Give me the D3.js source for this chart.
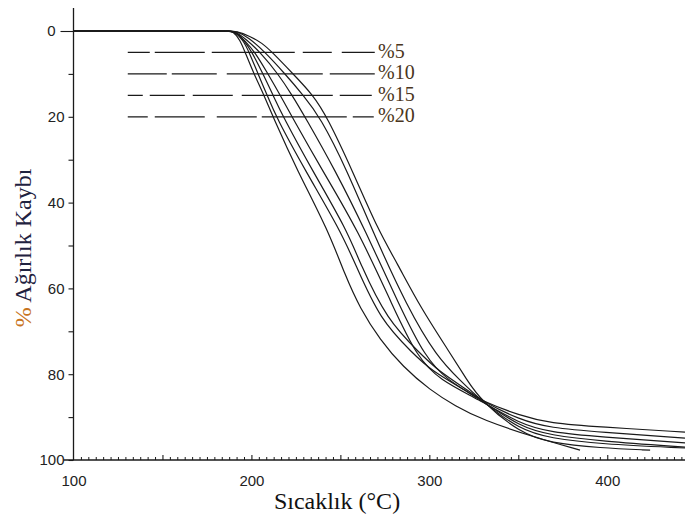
<!DOCTYPE html>
<html><head><meta charset="utf-8">
<script src="https://cdn.jsdelivr.net/npm/d3@7"></script>
<style>body{margin:0;background:#fff} svg{display:block}</style>
</head><body>
<svg id="c" width="685" height="520"></svg>
<script>
// ---- data: [temperature °C, weight loss %]
const seriesA = [[100,0],[186,0],[189.7,0],[193.6,2.1],[196.4,4.9],[201.4,10],[207,14.9],[212.1,20],[225.6,32.4],[243.1,46.4],[252.6,56.9],[261,64.6],[272.3,72],[285.2,78.3],[300.4,83.7],[314.5,87.4],[330.2,90.7],[358.3,94.6],[384.7,97.7]];
const seriesB = [[100,0],[186.5,0],[190.2,0],[195.3,2.1],[198.7,4.9],[203.7,10],[208.8,14.9],[213.8,20],[230.1,32.4],[249.8,46.4],[258.2,54.1],[272.3,67.4],[290.8,75.1],[300.4,79],[322.9,84.4],[328.5,86],[351,89.7],[367.9,91.4],[396,92.3],[443.7,93.5]];
const seriesC = [[100,0],[187,0],[190.8,0],[195.8,2.1],[200.3,4.9],[206.5,10],[212.1,14.9],[217.8,20],[234.1,32.4],[253.7,46.4],[261,54.1],[276.2,67.4],[294.8,75.1],[304.3,79],[324,84.4],[329.6,86.2],[351,90.7],[367.9,92.5],[396,93.5],[443.7,94.9]];
const seriesD = [[100,0],[187,0],[190.8,0],[196.4,2.3],[202,4.9],[209.3,10],[216.1,14.9],[222.8,20],[239.7,32.4],[259.9,46.4],[279.6,64.3],[293.1,76],[306,81.4],[327.4,85.8],[351,91.6],[367.9,93.5],[396,94.6],[443.7,96]];
const seriesE = [[100,0],[187,0],[190.8,0],[197.5,2.1],[204.8,4.9],[215,10],[222.8,14.9],[230.1,20],[247,32.4],[263.9,46.4],[283.5,64.3],[297.6,76],[310,81.4],[329.1,86],[351,92.3],[367.9,94.2],[396,95.6],[443.7,97]];
const seriesF = [[100,0],[187.5,0],[191.3,0],[198.1,1.4],[207.6,4.9],[218.9,10],[229,14.9],[238.6,20],[253.7,32.4],[267.8,46.4],[287.5,64.3],[304.3,76],[317.3,81.4],[328.5,86],[351,93],[367.9,94.9],[396,96.3],[443.7,97.2]];
const seriesG = [[100,0],[187.5,0],[191.3,0],[199.2,1.2],[206,2.8],[211.6,4.9],[223.4,10],[234.6,14.9],[242.5,20],[256.6,32.4],[271.2,46.4],[281.9,54.1],[294.8,64.3],[311.7,75.1],[321.2,81.4],[329.1,86.2],[351,93.7],[367.9,96],[396,97.2],[424.1,97.7]];
const allSeries = [seriesA, seriesB, seriesC, seriesD, seriesE, seriesF, seriesG];

const xTickLabels = [100, 200, 300, 400];
const xMidTicks = [150, 200, 250, 300, 350, 400];
const yTickLabels = [0, 20, 40, 60, 80, 100];
const yMinorTicks = [10, 30, 50, 70, 90];

const refLevels = [5, 10, 15, 20];
const refLabels = ["%5", "%10", "%15", "%20"];
const refRange = [130.5, 269.5];

const xTitle = "Sıcaklık (°C)";
const yTitlePct = "%";
const yTitleRest = " Ağırlık Kaybı";

// ---- styles
const refDash = ["22,5,50,7,83,8,29,10,33", "39,5,45,10,96,7,45", "15,7,35,8,40,9,91,7,32", "20,7,50,12,40,5,85,6,21"];
const ink = "#1a1a1a";

const svg = d3.select("#c");
const x = d3.scaleLinear().domain([100, 443.7]).range([73.5, 685]);
const y = d3.scaleLinear().domain([0, 100]).range([31, 460]);

// axis lines
svg.append("line").attr("x1", x(100)).attr("x2", x(100)).attr("y1", 8).attr("y2", y(100))
  .attr("stroke", ink).attr("stroke-width", 1.3);
svg.append("line").attr("x1", x(100) - 10).attr("x2", 685).attr("y1", y(100)).attr("y2", y(100))
  .attr("stroke", ink).attr("stroke-width", 1.3);

// y axis
const yAx = svg.append("g").attr("transform", `translate(${x(100)},0)`)
  .call(d3.axisLeft(y).tickValues(yTickLabels).tickSize(5).tickPadding(4));
yAx.select(".domain").remove();
yAx.selectAll("line").attr("stroke", ink).attr("stroke-width", 1.1);
yAx.selectAll("text").attr("font-family", "Liberation Sans, Arial, sans-serif").attr("font-size", 15).attr("fill", "#222");
yAx.selectAll(".tick").filter(d => d === 0).select("line").attr("x2", -13);
yAx.selectAll(".tick").filter(d => d === 0).select("text").attr("x", -18);
const yMin = svg.append("g").attr("transform", `translate(${x(100)},0)`)
  .call(d3.axisLeft(y).tickValues(yMinorTicks).tickSize(5).tickFormat(""));
yMin.select(".domain").remove();
yMin.selectAll("line").attr("stroke", ink).attr("stroke-width", 1.1);

// x axis
const minorVals = d3.range(0, 84).map(i => 100 + i * 50 / 12).filter(v => Math.abs((v - 100) % 50) > 0.01 && Math.abs((v - 100) % 50 - 50) > 0.01);
const xMin = svg.append("g").attr("transform", `translate(0,${y(100)})`)
  .call(d3.axisBottom(x).tickValues(minorVals).tickSize(-3).tickFormat(""));
xMin.select(".domain").remove();
xMin.selectAll("line").attr("stroke", ink).attr("stroke-width", 1);
const xMid = svg.append("g").attr("transform", `translate(0,${y(100)})`)
  .call(d3.axisBottom(x).tickValues(xMidTicks).tickSize(-5).tickFormat(""));
xMid.select(".domain").remove();
xMid.selectAll("line").attr("stroke", ink).attr("stroke-width", 1.1);
const xLab = svg.append("g").attr("transform", `translate(0,${y(100)})`)
  .call(d3.axisBottom(x).tickValues(xTickLabels).tickSize(0).tickPadding(15));
xLab.select(".domain").remove();
xLab.selectAll("text").attr("font-family", "Liberation Sans, Arial, sans-serif").attr("font-size", 15).attr("fill", "#222");

// reference dashed lines + labels
refLevels.forEach((lv, i) => {
  svg.append("line").attr("x1", x(refRange[0])).attr("x2", x(refRange[1]))
    .attr("y1", y(lv)).attr("y2", y(lv))
    .attr("stroke", ink).attr("stroke-width", 1.2).attr("stroke-dasharray", refDash[i]);
  svg.append("text").attr("x", x(refRange[1]) + 3).attr("y", y(lv) + 5.5)
    .attr("font-family", "Liberation Serif, Times New Roman, serif").attr("font-size", 20)
    .attr("fill", "#4a3520").text(refLabels[i]);
});

// curves
const line = d3.line().x(d => x(d[0])).y(d => y(d[1])).curve(d3.curveBasis);
svg.append("g").selectAll("path").data(allSeries).join("path")
  .attr("d", line).attr("fill", "none").attr("stroke", ink).attr("stroke-width", 1.2);

// titles
svg.append("text").attr("x", 337).attr("y", 509).attr("text-anchor", "middle")
  .attr("font-family", "Liberation Serif, Times New Roman, serif").attr("font-size", 24)
  .attr("fill", "#111").text(xTitle);
const yt = svg.append("text").attr("transform", "translate(31,248) rotate(-90)").attr("text-anchor", "middle")
  .attr("font-family", "Liberation Serif, Times New Roman, serif").attr("font-size", 24);
yt.append("tspan").attr("fill", "#c8741e").text(yTitlePct);
yt.append("tspan").attr("fill", "#1f2240").text(yTitleRest);
</script>
</body></html>
